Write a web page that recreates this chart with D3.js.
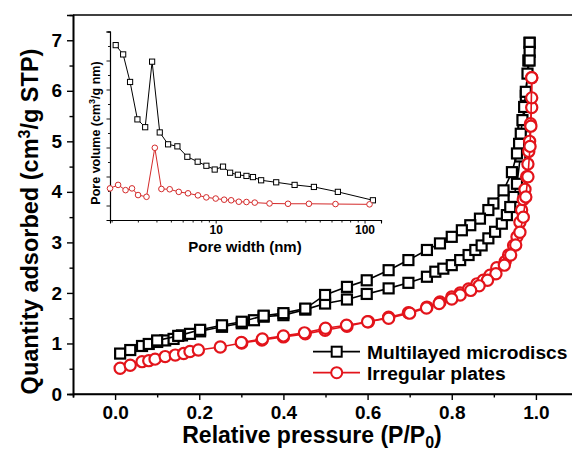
<!DOCTYPE html>
<html><head><meta charset="utf-8">
<script src="https://cdn.jsdelivr.net/npm/d3@7"></script>
<style>
body{margin:0;background:#fff;}
svg text{font-family:"Liberation Sans",Arial,Helvetica,sans-serif;font-weight:bold;fill:#000;}
</style>
</head><body>
<svg id="chart" width="572" height="451"></svg>
<script>
// ---------- DATA ----------
// Main isotherms: [relative pressure, quantity adsorbed]
const microdiscsAds = [[0.012,0.80],[0.036,0.87],[0.064,0.95],[0.080,0.99],[0.100,1.03],[0.119,1.06],[0.139,1.09],[0.159,1.16],[0.178,1.19],[0.202,1.24],[0.254,1.33],[0.301,1.40],[0.330,1.46],[0.353,1.53],[0.400,1.56],[0.452,1.67],[0.499,1.79],[0.551,1.87],[0.598,1.98],[0.650,2.09],[0.697,2.20],[0.741,2.32],[0.761,2.42],[0.780,2.48],[0.800,2.55],[0.820,2.65],[0.840,2.75],[0.856,2.85],[0.871,2.94],[0.887,3.08],[0.903,3.21],[0.919,3.37],[0.931,3.54],[0.939,3.70],[0.947,3.90],[0.955,4.16],[0.963,4.70],[0.970,5.30],[0.976,5.90],[0.982,6.60],[0.985,6.95]];
const microdiscsDes = [[0.985,6.95],[0.985,6.77],[0.985,6.60],[0.980,6.34],[0.976,5.98],[0.972,5.68],[0.968,5.42],[0.964,5.15],[0.960,4.95],[0.955,4.76],[0.943,4.39],[0.923,4.03],[0.899,3.77],[0.887,3.64],[0.867,3.47],[0.844,3.34],[0.824,3.24],[0.800,3.11],[0.772,2.98],[0.741,2.85],[0.697,2.65],[0.650,2.45],[0.598,2.25],[0.551,2.12],[0.499,1.96],[0.452,1.69],[0.400,1.60],[0.353,1.55],[0.301,1.43],[0.254,1.36],[0.202,1.27],[0.150,1.15],[0.100,1.06]];
const platesAds = [[0.012,0.51],[0.036,0.57],[0.064,0.64],[0.080,0.66],[0.095,0.69],[0.119,0.74],[0.143,0.77],[0.163,0.80],[0.178,0.84],[0.198,0.87],[0.250,0.93],[0.301,1.01],[0.349,1.07],[0.400,1.13],[0.452,1.19],[0.499,1.26],[0.551,1.34],[0.602,1.43],[0.650,1.52],[0.697,1.61],[0.741,1.72],[0.772,1.82],[0.800,1.92],[0.820,2.00],[0.840,2.08],[0.860,2.18],[0.875,2.25],[0.891,2.35],[0.907,2.50],[0.927,2.62],[0.935,2.75],[0.947,2.94],[0.955,3.11],[0.962,3.40],[0.966,3.64],[0.970,3.85],[0.974,4.05],[0.978,4.30],[0.981,4.55],[0.983,4.80],[0.985,5.00],[0.987,5.35],[0.990,5.67],[0.990,5.86],[0.990,6.26]];
const platesDes = [[0.990,6.26],[0.988,5.30],[0.986,4.90],[0.981,4.30],[0.976,3.90],[0.970,3.50],[0.962,3.20],[0.952,2.95],[0.940,2.75],[0.925,2.55],[0.905,2.38],[0.885,2.25],[0.865,2.14],[0.845,2.05],[0.820,1.96],[0.800,1.88],[0.770,1.79],[0.740,1.70],[0.700,1.60],[0.650,1.50],[0.600,1.43],[0.550,1.36],[0.500,1.30],[0.450,1.21],[0.400,1.15],[0.350,1.09],[0.300,1.02]];

// Inset pore size distribution: [pore width nm, pore volume (arb.)]
const microdiscsPSD = [[2.13,6.03],[2.39,5.71],[2.66,4.76],[2.98,3.47],[3.36,3.20],[3.74,5.46],[4.21,3.02],[4.79,2.61],[5.53,2.54],[6.45,2.18],[7.57,2.01],[8.66,1.87],[9.85,1.74],[11.2,1.84],[12.5,1.63],[14.1,1.56],[16.1,1.52],[17.8,1.48],[20.2,1.37],[25.5,1.30],[33.9,1.21],[45.7,1.14],[66.2,0.97],[113.8,0.68]];
const platesPSD = [[1.95,1.09],[2.21,1.21],[2.48,1.03],[2.74,1.09],[3.01,0.86],[3.43,0.80],[3.90,2.49],[4.32,1.07],[4.91,1.06],[5.65,0.97],[6.52,0.92],[7.60,0.85],[8.65,0.78],[10.0,0.74],[11.4,0.70],[12.7,0.68],[14.3,0.63],[16.1,0.62],[18.3,0.60],[23.0,0.57],[30.6,0.56],[42.3,0.56],[63.8,0.55],[108,0.54]];

const seriesNames = ["Multilayed microdiscs","Irregular plates"];
const seriesColors = ["#000000","#e3141b"];
const xTicks = [0.0,0.2,0.4,0.6,0.8,1.0];
const yTicks = [0,1,2,3,4,5,6,7];
const insetXTicks = [10,100];

// ---------- LAYOUT ----------
const svg = d3.select("#chart");
const M = {left:73, top:15, bottom:394, right:578};
const x = d3.scaleLinear().domain([-0.1,1.1]).range([M.left,M.right]);
const y = d3.scaleLinear().domain([0,7.5]).range([M.bottom,M.top]);

svg.append("line").attr("x1",M.left).attr("x2",M.right).attr("y1",M.top).attr("y2",M.top)
  .attr("stroke","#000").attr("stroke-width",1.6);

const xAx = svg.append("g").attr("transform",`translate(0,${M.bottom})`)
  .call(d3.axisBottom(x).tickValues(xTicks).tickFormat(d3.format(".1f")).tickSizeOuter(0).tickSize(6).tickPadding(6));
const xMin = svg.append("g").attr("transform",`translate(0,${M.bottom})`)
  .call(d3.axisBottom(x).tickValues([-0.1,0.1,0.3,0.5,0.7,0.9]).tickFormat("").tickSizeOuter(0).tickSize(3.5));
const yAx = svg.append("g").attr("transform",`translate(${M.left},0)`)
  .call(d3.axisLeft(y).tickValues(yTicks).tickFormat(d3.format("d")).tickSizeOuter(0).tickSize(6).tickPadding(5));
const yMin = svg.append("g").attr("transform",`translate(${M.left},0)`)
  .call(d3.axisLeft(y).tickValues([0.5,1.5,2.5,3.5,4.5,5.5,6.5]).tickFormat("").tickSizeOuter(0).tickSize(3.5));
[xAx,xMin,yAx,yMin].forEach(g=>{
  g.select(".domain").attr("stroke","#000").attr("stroke-width",1.6);
  g.selectAll(".tick line").attr("stroke","#000").attr("stroke-width",1.4);
  g.selectAll("text").attr("font-size",19).attr("font-family","Liberation Sans, Arial, sans-serif").attr("font-weight","bold").attr("fill","#000");
});
xAx.select(".domain").attr("d",`M${M.left},0H572`);

const yt = svg.append("text").attr("transform",`translate(38,${(M.top+M.bottom)/2+17}) rotate(-90)`)
  .attr("text-anchor","middle").attr("font-size",23.5);
yt.append("tspan").text("Quantity adsorbed (cm");
yt.append("tspan").attr("dy",-8.5).attr("font-size",16).text("3");
yt.append("tspan").attr("dy",8.5).text("/g STP)");
const xt = svg.append("text").attr("x",312).attr("y",443).attr("text-anchor","middle").attr("font-size",23);
xt.append("tspan").text("Relative pressure (P/P");
xt.append("tspan").attr("dy",5).attr("font-size",16).text("0");
xt.append("tspan").attr("dy",-5).text(")");

// ---------- MAIN SERIES ----------
const line = d3.line().x(d=>x(d[0])).y(d=>y(d[1]));
function drawSeries(data, color, shape){
  svg.append("path").datum(data).attr("d",line).attr("fill","none").attr("stroke",color).attr("stroke-width",1.6);
  const g = svg.append("g");
  if(shape==="square"){
    g.selectAll("rect").data(data).join("rect")
      .attr("x",d=>x(d[0])-5).attr("y",d=>y(d[1])-5).attr("width",10).attr("height",10)
      .attr("fill","#fff").attr("stroke",color).attr("stroke-width",2.2);
  } else {
    g.selectAll("circle").data(data).join("circle")
      .attr("cx",d=>x(d[0])).attr("cy",d=>y(d[1])).attr("r",5.6)
      .attr("fill","#fff").attr("stroke",color).attr("stroke-width",2.2);
  }
}
drawSeries(microdiscsAds, seriesColors[0], "square");
drawSeries(microdiscsDes, seriesColors[0], "square");
drawSeries(platesAds, seriesColors[1], "circle");
drawSeries(platesDes, seriesColors[1], "circle");

// ---------- LEGEND ----------
const lg = svg.append("g");
[[351.7,"square"],[372.7,"circle"]].forEach(([ly,shape],i)=>{
  lg.append("line").attr("x1",313).attr("x2",360).attr("y1",ly).attr("y2",ly).attr("stroke",seriesColors[i]).attr("stroke-width",1.8);
  if(shape==="square") lg.append("rect").attr("x",331.7).attr("y",ly-5).attr("width",10).attr("height",10).attr("fill","#fff").attr("stroke",seriesColors[i]).attr("stroke-width",2);
  else lg.append("circle").attr("cx",336.7).attr("cy",ly).attr("r",5.5).attr("fill","#fff").attr("stroke",seriesColors[i]).attr("stroke-width",2);
  lg.append("text").attr("x",367).attr("y",ly+7).attr("font-size",19.2).text(seriesNames[i]);
});

// ---------- INSET ----------
const ix = d3.scaleLog().domain([1.95,129]).range([110,381]);
const iy = d3.scaleLinear().domain([0,6.5]).range([220,31.5]);
const minorLog = [];
[1,10,100].forEach(dec=>{for(let k=2;k<=9;k++){const v=k*dec; if(v>=1.95&&v<=129&&v!==10&&v!==100) minorLog.push(v);}});
const ixAx = svg.append("g").attr("transform","translate(0,220)")
  .call(d3.axisBottom(ix).tickValues(insetXTicks).tickFormat(d3.format("d")).tickSizeOuter(0).tickSize(3.5).tickPadding(2));
const ixMin = svg.append("g").attr("transform","translate(0,220)")
  .call(d3.axisBottom(ix).tickValues(minorLog).tickFormat("").tickSizeOuter(0).tickSize(2.5));
const iyAx = svg.append("g").attr("transform","translate(110,0)")
  .call(d3.axisLeft(iy).tickValues([0.5,1.5,2.5,3.5,4.5,5.5,6.5]).tickFormat("").tickSizeOuter(0).tickSize(3.5));
const iyMin = svg.append("g").attr("transform","translate(110,0)")
  .call(d3.axisLeft(iy).tickValues([1,2,3,4,5,6]).tickFormat("").tickSizeOuter(0).tickSize(2));
[ixAx,ixMin,iyAx,iyMin].forEach(g=>{
  g.select(".domain").attr("stroke","#000").attr("stroke-width",1.1);
  g.selectAll(".tick line").attr("stroke","#000").attr("stroke-width",0.9);
  g.selectAll("text").attr("font-size",12).attr("font-family","Liberation Sans, Arial, sans-serif").attr("font-weight","bold").attr("fill","#000");
});
const iyt = svg.append("text").attr("transform","translate(100,133) rotate(-90)").attr("text-anchor","middle").attr("font-size",12.5);
iyt.append("tspan").text("Pore volume (cm");
iyt.append("tspan").attr("dy",-5).attr("font-size",9).text("3");
iyt.append("tspan").attr("dy",5).text("/g nm)");
svg.append("text").attr("x",245).attr("y",252).attr("text-anchor","middle").attr("font-size",15).text("Pore width (nm)");

const iline = d3.line().x(d=>ix(d[0])).y(d=>iy(d[1]));
svg.append("path").datum(microdiscsPSD).attr("d",iline).attr("fill","none").attr("stroke","#000").attr("stroke-width",1);
svg.append("g").selectAll("rect").data(microdiscsPSD).join("rect")
  .attr("x",d=>ix(d[0])-2.6).attr("y",d=>iy(d[1])-2.6).attr("width",5.2).attr("height",5.2)
  .attr("fill","#fff").attr("stroke","#000").attr("stroke-width",1);
svg.append("path").datum(platesPSD).attr("d",iline).attr("fill","none").attr("stroke","#d42a2a").attr("stroke-width",1);
svg.append("g").selectAll("circle").data(platesPSD).join("circle")
  .attr("cx",d=>ix(d[0])).attr("cy",d=>iy(d[1])).attr("r",2.8)
  .attr("fill","#fff").attr("stroke","#d42a2a").attr("stroke-width",1);
</script>
</body></html>
